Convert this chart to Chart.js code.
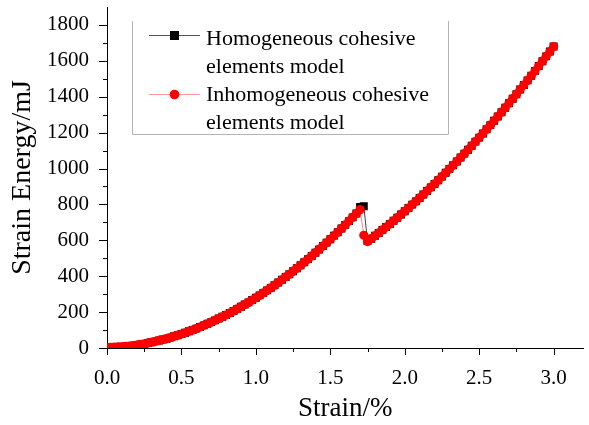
<!DOCTYPE html>
<html>
<head>
  <title>Strain Energy</title>
  <style>
    body {
      margin: 0;
      padding: 0;
      background-color: #ffffff;
    }
    canvas {
      display: block;
    }
  </style>
  <script src="https://cdn.jsdelivr.net/npm/chart.js"></script>
</head>
<body>
  <canvas id="energy_chart" width="589" height="425"></canvas>

  <script>
    // strain (%) sampled every 0.025
    var strain = [
      0, 0.025, 0.05, 0.075, 0.1, 0.125, 0.15, 0.175, 0.2, 0.225,
      0.25, 0.275, 0.3, 0.325, 0.35, 0.375, 0.4, 0.425, 0.45, 0.475,
      0.5, 0.525, 0.55, 0.575, 0.6, 0.625, 0.65, 0.675, 0.7, 0.725,
      0.75, 0.775, 0.8, 0.825, 0.85, 0.875, 0.9, 0.925, 0.95, 0.975,
      1.0, 1.025, 1.05, 1.075, 1.1, 1.125, 1.15, 1.175, 1.2, 1.225,
      1.25, 1.275, 1.3, 1.325, 1.35, 1.375, 1.4, 1.425, 1.45, 1.475,
      1.5, 1.525, 1.55, 1.575, 1.6, 1.625, 1.65, 1.675, 1.7, 1.725,
      1.75, 1.775, 1.8, 1.825, 1.85, 1.875, 1.9, 1.925, 1.95, 1.975,
      2.0, 2.025, 2.05, 2.075, 2.1, 2.125, 2.15, 2.175, 2.2, 2.225,
      2.25, 2.275, 2.3, 2.325, 2.35, 2.375, 2.4, 2.425, 2.45, 2.475,
      2.5, 2.525, 2.55, 2.575, 2.6, 2.625, 2.65, 2.675, 2.7, 2.725,
      2.75, 2.775, 2.8, 2.825, 2.85, 2.875, 2.9, 2.925, 2.95, 2.975,
      3.0
    ];

    // strain energy (mJ), homogeneous model (black squares)
    var homoEnergy = [
      3, 4, 5, 6, 7, 9, 11, 13, 16, 20,
      23, 28, 32, 37, 42, 47, 52, 58, 65, 71,
      78, 85, 93, 100, 108, 117, 126, 135, 144, 154,
      164, 174, 184, 195, 206, 218, 230, 242, 254, 267,
      280, 293, 307, 321, 335, 350, 365, 380, 396, 411,
      428, 444, 461, 478, 495, 513, 531, 549, 568, 587,
      606, 626, 645, 666, 686, 707, 728, 749, 786, 790,
      596, 609, 625, 641, 658, 674, 691, 709, 726, 744,
      762, 780, 799, 817, 836, 855, 875, 895, 914, 935,
      955, 976, 997, 1018, 1039, 1061, 1083, 1105, 1127, 1150,
      1172, 1195, 1219, 1242, 1266, 1290, 1314, 1339, 1364, 1389,
      1414, 1440, 1465, 1491, 1517, 1544, 1571, 1598, 1625, 1652,
      1680
    ];

    // strain energy (mJ), inhomogeneous model (red circles)
    var inhomoEnergy = [
      3, 4, 5, 6, 7, 9, 11, 13, 16, 20,
      23, 28, 32, 37, 42, 47, 52, 58, 65, 71,
      78, 85, 93, 100, 108, 117, 126, 135, 144, 154,
      164, 174, 184, 195, 206, 218, 230, 242, 254, 267,
      280, 293, 307, 321, 335, 350, 365, 380, 396, 411,
      428, 444, 461, 478, 495, 513, 531, 549, 568, 587,
      606, 626, 645, 666, 686, 707, 728, 749, 771, 628,
      593, 609, 625, 641, 658, 674, 691, 709, 726, 744,
      762, 780, 799, 817, 836, 855, 875, 895, 914, 935,
      955, 976, 997, 1018, 1039, 1061, 1083, 1105, 1127, 1150,
      1172, 1195, 1219, 1242, 1266, 1290, 1314, 1339, 1364, 1389,
      1414, 1440, 1465, 1491, 1517, 1544, 1571, 1598, 1625, 1652,
      1680
    ];

    var legendLines = [
      ['Homogeneous cohesive', 'elements model'],
      ['Inhomogeneous cohesive', 'elements model']
    ];

    function toPoints(xs, ys) {
      var out = [];
      for (var i = 0; i < xs.length; i++) out.push({x: xs[i], y: ys[i]});
      return out;
    }

    function onStep(v, step) {
      var n = v / step;
      return Math.abs(n - Math.round(n)) < 1e-6;
    }

    // outward tick marks: long at labelled values, short in between
    var axisTicks = {
      id: 'axisTicks',
      afterDraw: function(chart) {
        var ctx = chart.ctx;
        var xs = chart.scales.x, ys = chart.scales.y;
        ctx.save();
        ctx.strokeStyle = '#000';
        ctx.lineWidth = 1;
        ctx.beginPath();
        xs.ticks.forEach(function(t) {
          if (!onStep(t.value, 0.25)) return;
          var px = Math.round(xs.getPixelForValue(t.value)) + 0.5;
          var len = onStep(t.value, 0.5) ? 7 : 4;
          ctx.moveTo(px, xs.top);
          ctx.lineTo(px, xs.top + len);
        });
        ys.ticks.forEach(function(t) {
          if (!onStep(t.value, 100) || t.value > 1800.001) return;
          var py = Math.round(ys.getPixelForValue(t.value)) + 0.5;
          var len = onStep(t.value, 200) ? 8 : 4;
          ctx.moveTo(ys.right, py);
          ctx.lineTo(ys.right - len, py);
        });
        ctx.stroke();
        ctx.restore();
      }
    };

    // legend box with two-line labels (no top border, like the original)
    var boxLegend = {
      id: 'boxLegend',
      afterDraw: function(chart) {
        var ctx = chart.ctx;
        ctx.save();
        ctx.strokeStyle = '#b4b4b4';
        ctx.lineWidth = 1;
        ctx.beginPath();
        ctx.moveTo(132.5, 21);
        ctx.lineTo(132.5, 134.5);
        ctx.lineTo(448.5, 134.5);
        ctx.lineTo(448.5, 21);
        ctx.stroke();

        // entry 1
        ctx.strokeStyle = '#555555';
        ctx.beginPath();
        ctx.moveTo(149, 35.5);
        ctx.lineTo(200, 35.5);
        ctx.stroke();
        ctx.fillStyle = '#000000';
        ctx.fillRect(170, 31, 9, 9);

        // entry 2
        ctx.strokeStyle = '#ff9a9a';
        ctx.beginPath();
        ctx.moveTo(149, 94.5);
        ctx.lineTo(200, 94.5);
        ctx.stroke();
        ctx.fillStyle = '#ff0000';
        ctx.beginPath();
        ctx.arc(174.5, 94.5, 4.8, 0, Math.PI * 2);
        ctx.fill();

        ctx.fillStyle = '#000000';
        ctx.font = '22px "Liberation Serif", "Times New Roman", serif';
        ctx.textBaseline = 'alphabetic';
        ctx.textAlign = 'left';
        ctx.fillText(legendLines[0][0], 206, 45);
        ctx.fillText(legendLines[0][1], 206, 73);
        ctx.fillText(legendLines[1][0], 206, 101);
        ctx.fillText(legendLines[1][1], 206, 129);
        ctx.restore();
      }
    };

    var serif = '"Liberation Serif", "Times New Roman", serif';

    var energyChart = new Chart(document.getElementById('energy_chart'), {
      type: 'line',
      data: {
        datasets: [{
          label: 'Homogeneous cohesive elements model',
          data: toPoints(strain, homoEnergy),
          borderColor: '#444444',
          borderWidth: 1,
          pointStyle: 'rect',
          pointRadius: 5.6,
          pointBackgroundColor: '#000000',
          pointBorderWidth: 0,
          order: 2,
          tension: 0
        }, {
          label: 'Inhomogeneous cohesive elements model',
          data: toPoints(strain, inhomoEnergy),
          borderColor: '#ff8c8c',
          borderWidth: 1,
          pointStyle: 'circle',
          pointRadius: 4.6,
          pointBackgroundColor: '#ff0000',
          pointBorderWidth: 0,
          order: 1,
          tension: 0
        }]
      },
      options: {
        responsive: false,
        animation: false,
        layout: {
          padding: {top: 7, right: -4, bottom: 0, left: 0}
        },
        plugins: {
          legend: {display: false},
          tooltip: {enabled: false}
        },
        scales: {
          x: {
            type: 'linear',
            min: 0,
            max: 3.2,
            grid: {display: false},
            border: {display: true, color: '#000', width: 1},
            ticks: {
              stepSize: 0.25,
              includeBounds: false,
              autoSkip: false,
              maxRotation: 0,
              padding: 10,
              color: '#000',
              font: {family: serif, size: 21},
              callback: function(v) {
                return onStep(v, 0.5) && v <= 3.001 ? v.toFixed(1) : '';
              }
            },
            title: {
              display: true,
              text: 'Strain/%',
              color: '#000',
              font: {family: serif, size: 27},
              padding: {top: 0, bottom: 0}
            },
            afterFit: function(scale) {
              scale.height = 77;
              scale.paddingLeft = 0;
              scale.paddingRight = 0;
            }
          },
          y: {
            type: 'linear',
            min: 0,
            max: 1900,
            grid: {display: false},
            border: {display: true, color: '#000', width: 1},
            ticks: {
              stepSize: 100,
              autoSkip: false,
              padding: 10,
              color: '#000',
              font: {family: serif, size: 21},
              callback: function(v) {
                return onStep(v, 200) && v <= 1800.001 ? String(v) : '';
              }
            },
            title: {
              display: true,
              text: 'Strain Energy/mJ',
              color: '#000',
              font: {family: serif, size: 28},
              padding: {top: 6, bottom: 0}
            },
            afterFit: function(scale) {
              scale.width = 107;
              scale.paddingTop = 0;
              scale.paddingBottom = 0;
            }
          }
        }
      },
      plugins: [axisTicks, boxLegend]
    });
  </script>
</body>
</html>
